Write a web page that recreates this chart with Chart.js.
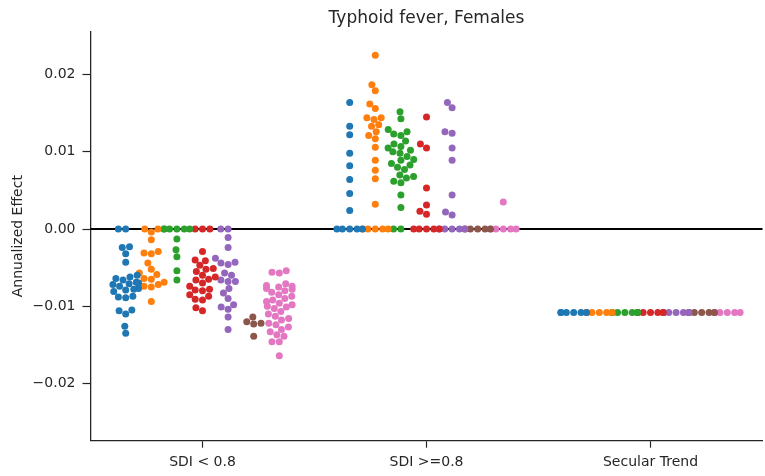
<!DOCTYPE html>
<html>
<head>
<meta charset="utf-8">
<script src="https://cdn.jsdelivr.net/npm/chart.js@4.4.1/dist/chart.umd.min.js"></script>
<style>
  html, body { margin: 0; padding: 0; background: #fff; overflow: hidden; }
  #wrap { width: 766px; height: 476px; }
</style>
</head>
<body>
<div id="wrap"><canvas id="c" width="766" height="476"></canvas></div>
<script>
// ---------- data ----------
const categories = ['SDI < 0.8', 'SDI >=0.8', 'Secular Trend'];
const yTickValues = [-0.02, -0.01, 0.0, 0.01, 0.02];

// hue 1 (blue)
const hue1Low = [0, 0, -0.0023, -0.0024, -0.0032, -0.0043, -0.0060, -0.0062, -0.0064, -0.0066, -0.0069, -0.0070, -0.0071, -0.0072, -0.0074, -0.0077, -0.0078, -0.0079, -0.0081, -0.0087, -0.0088, -0.0089, -0.0105, -0.0106, -0.0110, -0.0126, -0.0135];
const hue1High = [0, 0, 0, 0, 0, 0.0024, 0.0046, 0.0064, 0.0082, 0.0098, 0.0122, 0.0133, 0.0164];
const hue1Secular = [-0.0108, -0.0108, -0.0108, -0.0108, -0.0108, -0.0108];
// hue 2 (orange)
const hue2Low = [0, 0, -0.0004, -0.0014, -0.0029, -0.0031, -0.0032, -0.0044, -0.0052, -0.0057, -0.0059, -0.0064, -0.0065, -0.0069, -0.0070, -0.0072, -0.0074, -0.0075, -0.0094];
const hue2High = [0, 0, 0, 0, 0, 0.0032, 0.0065, 0.0076, 0.0089, 0.0106, 0.0117, 0.0121, 0.0126, 0.0133, 0.0135, 0.0142, 0.0144, 0.0144, 0.0156, 0.0162, 0.0179, 0.0187, 0.0225];
const hue2Secular = [-0.0108, -0.0108, -0.0108, -0.0108, -0.0108, -0.0108];
// hue 3 (green)
const hue3Low = [0, 0, 0, 0, 0, 0, -0.0013, -0.0027, -0.0036, -0.0054, -0.0066];
const hue3High = [0, 0, 0.0028, 0.0044, 0.0060, 0.0062, 0.0066, 0.0068, 0.0070, 0.0077, 0.0080, 0.0083, 0.0085, 0.0089, 0.0090, 0.0094, 0.0098, 0.0100, 0.0102, 0.0105, 0.0107, 0.0110, 0.0114, 0.0121, 0.0123, 0.0126, 0.0129, 0.0143, 0.0152];
const hue3Secular = [-0.0108, -0.0108, -0.0108, -0.0108, -0.0108, -0.0108];
// hue 4 (red)
const hue4Low = [0, 0, 0, -0.0029, -0.0040, -0.0041, -0.0047, -0.0051, -0.0052, -0.0055, -0.0060, -0.0062, -0.0065, -0.0066, -0.0070, -0.0074, -0.0078, -0.0079, -0.0080, -0.0085, -0.0087, -0.0091, -0.0092, -0.0102, -0.0106];
const hue4High = [0, 0, 0, 0, 0, 0.0019, 0.0023, 0.0031, 0.0053, 0.0105, 0.0110, 0.0145];
const hue4Secular = [-0.0108, -0.0108, -0.0108, -0.0108, -0.0108, -0.0108];
// hue 5 (purple)
const hue5Low = [0, 0, -0.0011, -0.0024, -0.0038, -0.0043, -0.0044, -0.0046, -0.0057, -0.0060, -0.0066, -0.0068, -0.0068, -0.0077, -0.0083, -0.0090, -0.0098, -0.0101, -0.0104, -0.0114, -0.0130];
const hue5High = [0, 0, 0, 0, 0, 0.0018, 0.0022, 0.0044, 0.0089, 0.0105, 0.0124, 0.0126, 0.0157, 0.0164];
const hue5Secular = [-0.0108, -0.0108, -0.0108, -0.0108, -0.0108, -0.0108];
// hue 6 (brown)
const hue6Low = [-0.0114, -0.0120, -0.0122, -0.0123, -0.0139];
const hue6High = [0, 0, 0, 0, 0];
const hue6Secular = [-0.0108, -0.0108, -0.0108, -0.0108, -0.0108, -0.0108];
// hue 7 (pink)
const hue7Low = [-0.0054, -0.0056, -0.0057, -0.0071, -0.0073, -0.0074, -0.0075, -0.0077, -0.0078, -0.0080, -0.0082, -0.0085, -0.0087, -0.0090, -0.0092, -0.0094, -0.0096, -0.0098, -0.0100, -0.0101, -0.0103, -0.0107, -0.0110, -0.0113, -0.0116, -0.0118, -0.0122, -0.0124, -0.0127, -0.0130, -0.0133, -0.0137, -0.0139, -0.0146, -0.0146, -0.0164];
const hue7High = [0, 0, 0, 0, 0, 0.0035];
const hue7Secular = [-0.0108, -0.0108, -0.0108, -0.0108, -0.0108, -0.0108];

// ---------- styling ----------
const hueColors = ['#1f77b4', '#ff7f0e', '#2ca02c', '#d62728', '#9467bd', '#8c564b', '#e377c2'];
const hueGroups = [
  [hue1Low, hue1High, hue1Secular],
  [hue2Low, hue2High, hue2Secular],
  [hue3Low, hue3High, hue3Secular],
  [hue4Low, hue4High, hue4Secular],
  [hue5Low, hue5High, hue5Secular],
  [hue6Low, hue6High, hue6Secular],
  [hue7Low, hue7High, hue7Secular]
];
const nHue = hueGroups.length;
const totalWidth = 0.8;
const hueWidth = totalWidth / nHue;
const dodge = h => -totalWidth / 2 + hueWidth / 2 + h * hueWidth;
const TEXT = '#262626';
const FONT = 'DejaVu Sans';
const R = 3.5;

const datasets = hueGroups.map((groups, h) => {
  const pts = [];
  groups.forEach((vals, c) => vals.forEach(v => pts.push({ x: c + dodge(h), y: v, cat: c })));
  return {
    data: pts,
    backgroundColor: hueColors[h],
    borderWidth: 0,
    pointRadius: R,
    pointHoverRadius: R,
    pointBorderWidth: 0
  };
});

const zeroLine = {
  id: 'zeroLine',
  beforeDatasetsDraw(chart) {
    const { ctx, chartArea, scales } = chart;
    const py = scales.y.getPixelForValue(0);
    ctx.save();
    ctx.strokeStyle = '#000';
    ctx.lineWidth = 2;
    ctx.beginPath();
    ctx.moveTo(chartArea.left, py);
    ctx.lineTo(chartArea.right, py);
    ctx.stroke();
    ctx.restore();
  }
};

const fmtY = v => (v < 0 ? '\u2212' : '') + Math.abs(v).toFixed(2);

const chart = new Chart(document.getElementById('c'), {
  type: 'scatter',
  data: { datasets },
  options: {
    responsive: false,
    animation: false,
    events: [],
    layout: { padding: 0 },
    plugins: {
      legend: { display: false },
      tooltip: { enabled: false },
      title: {
        display: true,
        text: 'Typhoid fever, Females',
        fullSize: false,
        color: TEXT,
        font: { family: FONT, size: 17, weight: 'normal', lineHeight: 1.2 },
        padding: { top: 8.5, bottom: 2.8 }
      }
    },
    scales: {
      x: {
        type: 'linear',
        min: -0.5,
        max: 2.5,
        afterBuildTicks: s => { s.ticks = [0, 1, 2].map(v => ({ value: v })); },
        afterFit: s => { s.height = 35.3; },
        ticks: {
          autoSkip: false,
          maxRotation: 0,
          color: TEXT,
          padding: 6,
          font: { family: FONT, size: 14 },
          callback: v => categories[v]
        },
        grid: { drawOnChartArea: false, drawTicks: true, tickLength: 7, tickColor: TEXT, tickWidth: 1.2 },
        border: { display: true, color: TEXT, width: 1.3 }
      },
      y: {
        min: -0.02742,
        max: 0.02556,
        afterBuildTicks: s => { s.ticks = yTickValues.map(v => ({ value: v })); },
        afterFit: s => { s.width = 90.5; },
        ticks: {
          color: TEXT,
          padding: 7,
          font: { family: FONT, size: 14 },
          callback: v => fmtY(v)
        },
        title: {
          display: true,
          text: 'Annualized Effect',
          color: TEXT,
          font: { family: FONT, size: 14, lineHeight: 1.2 },
          padding: { top: 9.5, bottom: 0 }
        },
        grid: { drawOnChartArea: false, drawTicks: true, tickLength: 8, tickColor: TEXT, tickWidth: 1.2 },
        border: { display: true, color: TEXT, width: 1.3 }
      }
    }
  },
  plugins: [zeroLine]
});

// ---------- beeswarm layout (seaborn-style) in pixel space ----------
function beeswarm(values, centerPx, yScale, r, halfPx) {
  const items = values.map((v, i) => ({ i, y: -yScale.getPixelForValue(v) }));
  items.sort((a, b) => a.y - b.y);
  const swarm = [];
  const out = new Array(values.length);
  for (const it of items) {
    let pos;
    if (swarm.length === 0) {
      pos = centerPx;
    } else {
      const neighbors = [];
      for (let j = swarm.length - 1; j >= 0; j--) {
        if (it.y - swarm[j].y < 2 * r) neighbors.push(swarm[j]); else break;
      }
      if (neighbors.length === 0) {
        pos = centerPx;
      } else {
        const cands = [centerPx];
        let leftFirst = true;
        for (const n of neighbors) {
          const dy = it.y - n.y;
          const dx = Math.sqrt(Math.max(4 * r * r - dy * dy, 0)) * 1.05;
          const cl = n.x - dx, cr = n.x + dx;
          if (leftFirst) cands.push(cl, cr); else cands.push(cr, cl);
          leftFirst = !leftFirst;
        }
        const order = cands.map((x, k) => ({ x, k, off: Math.abs(x - centerPx) }));
        order.sort((a, b) => (a.off - b.off) || (a.k - b.k));
        pos = order[order.length - 1].x;
        for (const c of order) {
          let ok = true;
          for (const n of neighbors) {
            const ddx = n.x - c.x, ddy = n.y - it.y;
            if (ddx * ddx + ddy * ddy < 4 * r * r - 1e-9) { ok = false; break; }
          }
          if (ok) { pos = c.x; break; }
        }
      }
    }
    swarm.push({ x: pos, y: it.y });
    out[it.i] = Math.min(Math.max(pos, centerPx - halfPx), centerPx + halfPx);
  }
  return out;
}

const xs = chart.scales.x, ys = chart.scales.y;
hueGroups.forEach((groups, h) => {
  const ds = chart.data.datasets[h];
  let idx = 0;
  groups.forEach((vals, c) => {
    const cVal = c + dodge(h);
    const cPx = xs.getPixelForValue(cVal);
    const halfPx = xs.getPixelForValue(cVal + hueWidth / 2) - cPx;
    const px = beeswarm(vals, cPx, ys, R, halfPx);
    px.forEach(p => { ds.data[idx].x = xs.getValueForPixel(p); idx++; });
  });
});
chart.update('none');
</script>
</body>
</html>
